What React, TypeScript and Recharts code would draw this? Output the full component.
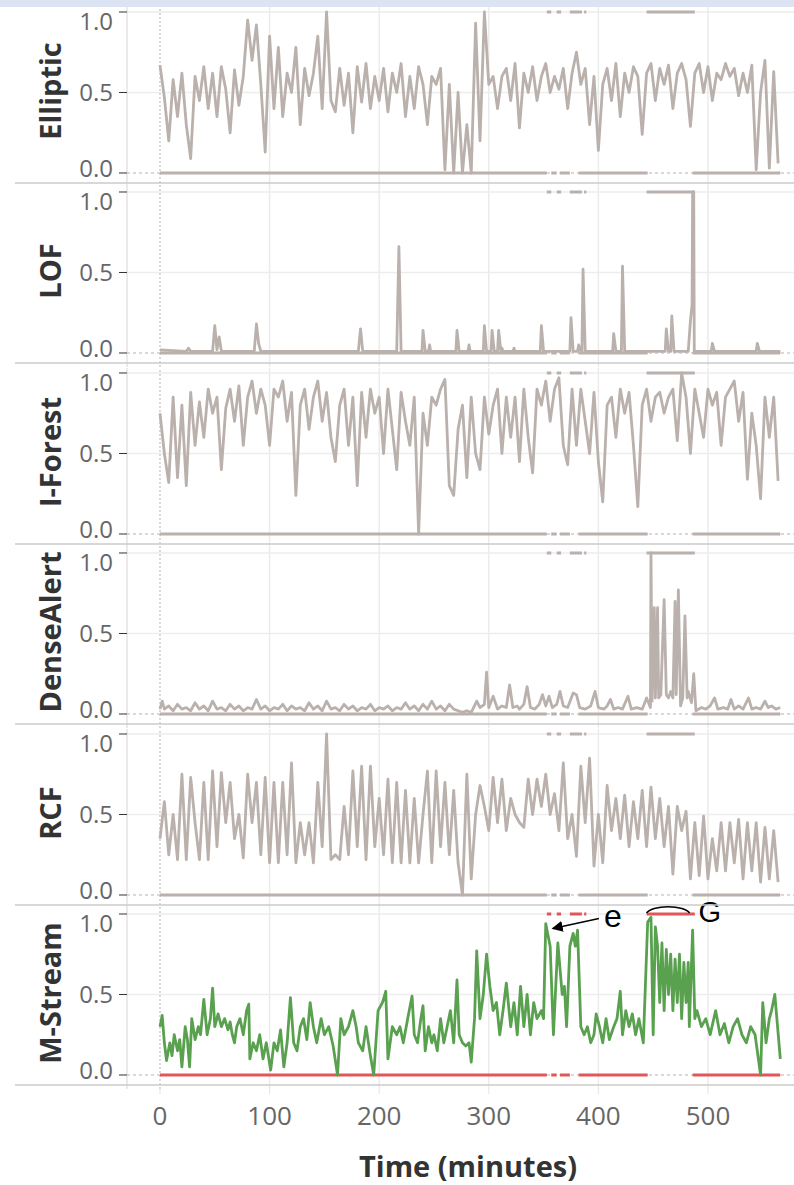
import React from "react";
import { LineChart, Line, XAxis, YAxis, ReferenceLine, ReferenceDot } from "recharts";

// minutes between samples of the grid series
const STEP = 4;

const xTicks = [0, 100, 200, 300, 400, 500];
const yTicks = [0, 0.5, 1];

// scores sampled every STEP minutes, from minute 0
const ellipticScores = [
    0.67, 0.47, 0.2, 0.58, 0.35, 0.62, 0.3, 0.09, 0.6, 0.45,
    0.66, 0.4, 0.62, 0.35, 0.66, 0.52, 0.25, 0.64, 0.42, 0.6,
    0.95, 0.7, 0.92, 0.55, 0.13, 0.85, 0.4, 0.78, 0.35, 0.62,
    0.5, 0.78, 0.3, 0.65, 0.48, 0.62, 0.85, 0.4, 1.0, 0.45,
    0.38, 0.65, 0.42, 0.62, 0.25, 0.66, 0.44, 0.68, 0.4, 0.6,
    0.45, 0.65, 0.38, 0.62, 0.5, 0.68, 0.35, 0.6, 0.4, 0.66,
    0.55, 0.3, 0.6, 0.55, 0.65, 0.02, 0.55, 0.0, 0.5, 0.0,
    0.3, 0.0, 0.93, 0.2, 1.0, 0.55, 0.6, 0.4, 0.6, 0.65,
    0.45, 0.68, 0.28, 0.62, 0.5, 0.66, 0.45, 0.6, 0.68, 0.5,
    0.6, 0.52, 0.65, 0.4, 0.62, 0.75, 0.55, 0.65, 0.3, 0.6,
    0.14, 0.55, 0.65, 0.45, 0.68, 0.35, 0.62, 0.5, 0.66, 0.6,
    0.24, 0.62, 0.68, 0.45, 0.65, 0.55, 0.67, 0.4, 0.62, 0.68,
    0.58, 0.29, 0.62, 0.68, 0.5, 0.66, 0.45, 0.62, 0.58, 0.68,
    0.6, 0.65, 0.48, 0.62, 0.5, 0.67, 0.02, 0.5, 0.7, 0.03,
    0.63, 0.06,
];

const iForestScores = [
    0.75, 0.5, 0.32, 0.85, 0.35, 0.8, 0.3, 0.88, 0.55, 0.82,
    0.6, 0.9, 0.75, 0.85, 0.4, 0.78, 0.9, 0.7, 0.92, 0.55,
    0.85, 0.95, 0.75, 0.9, 0.8, 0.55, 0.9, 0.85, 0.95, 0.7,
    0.88, 0.24, 0.8, 0.9, 0.65, 0.85, 0.95, 0.7, 0.88, 0.6,
    0.45, 0.8, 0.9, 0.55, 0.85, 0.3, 0.88, 0.6, 0.9, 0.75,
    0.85, 0.5, 0.9, 0.65, 0.4, 0.88, 0.7, 0.55, 0.85, 0.0,
    0.75, 0.55, 0.85, 0.8, 0.9, 0.96, 0.3, 0.24, 0.65, 0.8,
    0.35, 0.85, 0.5, 0.4, 0.85, 0.62, 0.8, 0.9, 0.5, 0.85,
    0.6, 0.85, 0.45, 0.9, 0.6, 0.38, 0.9, 0.8, 0.95, 0.7,
    0.9, 0.97, 0.55, 0.43, 0.9, 0.55, 0.9, 0.7, 0.5, 0.88,
    0.45, 0.2, 0.8, 0.85, 0.6, 0.9, 0.75, 0.88, 0.55, 0.17,
    0.8, 0.9, 0.7, 0.85, 0.88, 0.75, 0.85, 0.9, 0.58, 1.0,
    0.85, 0.5, 0.9, 0.75, 0.6, 0.9, 0.8, 0.88, 0.55, 0.85,
    0.9, 0.95, 0.7, 0.88, 0.34, 0.75, 0.55, 0.22, 0.85, 0.6,
    0.85, 0.33,
];

const rcfScores = [
    0.35, 0.58, 0.25, 0.5, 0.22, 0.75, 0.22, 0.73, 0.45, 0.22,
    0.7, 0.22, 0.77, 0.3, 0.76, 0.45, 0.7, 0.35, 0.5, 0.23,
    0.75, 0.45, 0.7, 0.25, 0.73, 0.2, 0.7, 0.2, 0.7, 0.25,
    0.82, 0.2, 0.45, 0.25, 0.45, 0.2, 0.7, 0.3, 1.0, 0.22,
    0.25, 0.22, 0.55, 0.25, 0.77, 0.3, 0.8, 0.22, 0.8, 0.3,
    0.6, 0.25, 0.72, 0.2, 0.7, 0.2, 0.65, 0.2, 0.6, 0.2,
    0.5, 0.77, 0.2, 0.77, 0.3, 0.7, 0.25, 0.65, 0.2, 0.0,
    0.75, 0.1, 0.5, 0.68, 0.55, 0.4, 0.73, 0.45, 0.72, 0.4,
    0.6, 0.5, 0.45, 0.42, 0.72, 0.5, 0.72, 0.55, 0.75, 0.5,
    0.63, 0.4, 0.82, 0.35, 0.5, 0.24, 0.8, 0.45, 0.85, 0.18,
    0.5, 0.2, 0.68, 0.4, 0.6, 0.35, 0.62, 0.3, 0.58, 0.35,
    0.65, 0.3, 0.67, 0.35, 0.6, 0.3, 0.55, 0.13, 0.55, 0.4,
    0.52, 0.1, 0.45, 0.12, 0.49, 0.1, 0.35, 0.15, 0.45, 0.15,
    0.45, 0.2, 0.47, 0.1, 0.45, 0.15, 0.45, 0.08, 0.42, 0.1,
    0.4, 0.08,
];

// [minute, score] pairs for the spiky series
const lofPoints: [number, number][] = [
    [0, 0.02], [24, 0.01], [26, 0.03], [28, 0.01], [48, 0.01], [50, 0.17], [52, 0.02], [54, 0.1], [56, 0.01],
    [86, 0.01], [88, 0.18], [90, 0.06], [92, 0.01], [181, 0.01], [183, 0.15], [185, 0.01], [216, 0.01],
    [218, 0.66], [220, 0.01], [239, 0.01], [240, 0.14], [242, 0.01], [245, 0.01], [246, 0.05], [247, 0.01],
    [270, 0.01], [271, 0.14], [273, 0.01], [281, 0.01], [282, 0.05], [283, 0.01], [295, 0.01], [296, 0.17],
    [298, 0.01], [302, 0.01], [303, 0.14], [305, 0.01], [308, 0.01], [309, 0.14], [311, 0.01], [312, 0.03],
    [313, 0.01], [322, 0.01], [323, 0.03], [324, 0.01], [347, 0.01], [348, 0.17], [350, 0.01], [374, 0.01],
    [375, 0.22], [377, 0.01], [381, 0.01], [382, 0.05], [384, 0.01], [385, 0.01], [386, 0.52], [388, 0.01],
    [413, 0.01], [414, 0.12], [416, 0.01], [421, 0.01], [422, 0.54], [424, 0.01], [461, 0.01], [462, 0.15],
    [464, 0.01], [466, 0.01], [467, 0.23], [469, 0.01], [482, 0.01], [484, 0.2], [485.5, 0.3], [486, 1.0],
    [487, 1.0], [487.5, 0.01], [503, 0.01], [504, 0.06], [506, 0.01], [544, 0.01], [545, 0.06], [547, 0.01],
    [566, 0.01],
];

const denseAlertPoints: [number, number][] = [
    [0, 0.03], [2, 0.08], [4, 0.03], [8, 0.05], [12, 0.02], [16, 0.06], [20, 0.03], [24, 0.04], [28, 0.02],
    [32, 0.07], [36, 0.03], [40, 0.05], [44, 0.02], [48, 0.08], [52, 0.03], [56, 0.04], [60, 0.02], [64, 0.06],
    [68, 0.03], [72, 0.05], [76, 0.02], [80, 0.04], [84, 0.03], [88, 0.09], [92, 0.03], [96, 0.05], [100, 0.02],
    [104, 0.04], [108, 0.03], [112, 0.06], [116, 0.02], [120, 0.05], [124, 0.03], [128, 0.04], [132, 0.02],
    [136, 0.07], [140, 0.03], [144, 0.05], [148, 0.02], [152, 0.08], [156, 0.03], [160, 0.04], [164, 0.02],
    [168, 0.06], [172, 0.03], [176, 0.05], [180, 0.02], [184, 0.04], [188, 0.03], [192, 0.06], [196, 0.02],
    [200, 0.04], [204, 0.03], [208, 0.05], [212, 0.02], [216, 0.04], [220, 0.03], [224, 0.07], [228, 0.03],
    [232, 0.05], [236, 0.02], [240, 0.06], [244, 0.03], [248, 0.08], [252, 0.03], [256, 0.05], [260, 0.02],
    [264, 0.06], [268, 0.03], [272, 0.02], [276, 0.01], [280, 0.02], [284, 0.01], [289, 0.08], [292, 0.04],
    [296, 0.06], [298, 0.26], [300, 0.04], [304, 0.11], [308, 0.03], [312, 0.05], [316, 0.04], [319, 0.18],
    [322, 0.04], [326, 0.05], [328, 0.03], [332, 0.06], [335, 0.17], [338, 0.04], [342, 0.03], [346, 0.06],
    [349, 0.12], [352, 0.05], [355, 0.11], [358, 0.04], [362, 0.06], [365, 0.14], [368, 0.05], [372, 0.04],
    [377, 0.13], [380, 0.12], [383, 0.04], [388, 0.03], [393, 0.05], [397, 0.14], [400, 0.04], [405, 0.03],
    [408, 0.05], [411, 0.09], [414, 0.03], [418, 0.04], [422, 0.03], [427, 0.11], [430, 0.03], [435, 0.04],
    [440, 0.03], [444, 0.1], [447.5, 0.04], [448, 1.0], [449, 0.08], [451, 0.66], [452, 0.1], [454, 0.66],
    [455, 0.1], [457, 0.12], [460, 0.71], [462, 0.12], [464, 0.1], [466, 0.14], [468, 0.1], [470, 0.7],
    [471, 0.12], [473, 0.77], [475, 0.05], [477, 0.1], [479, 0.61], [481, 0.1], [482, 0.14], [485, 0.07],
    [487, 0.25], [489, 0.02], [494, 0.04], [498, 0.03], [502, 0.05], [506, 0.1], [509, 0.03], [514, 0.04],
    [518, 0.03], [521, 0.09], [524, 0.03], [528, 0.05], [532, 0.03], [537, 0.1], [540, 0.03], [544, 0.04],
    [548, 0.03], [552, 0.08], [555, 0.04], [558, 0.05], [562, 0.03], [566, 0.04],
];

const mStreamPoints: [number, number][] = [
    [0, 0.3], [2, 0.37], [4, 0.2], [6, 0.09], [9, 0.2], [11, 0.12], [13, 0.25], [16, 0.15], [18, 0.22],
    [20, 0.05], [23, 0.3], [25, 0.22], [27, 0.05], [29, 0.35], [32, 0.22], [35, 0.3], [37, 0.25], [40, 0.47],
    [43, 0.25], [46, 0.35], [48, 0.54], [50, 0.3], [53, 0.38], [56, 0.3], [59, 0.35], [62, 0.28], [64, 0.33],
    [66, 0.25], [68, 0.2], [70, 0.3], [73, 0.35], [76, 0.25], [79, 0.4], [81, 0.44], [82, 0.1], [85, 0.2],
    [88, 0.15], [91, 0.25], [94, 0.1], [97, 0.2], [101, 0.03], [104, 0.2], [107, 0.15], [110, 0.28],
    [113, 0.05], [116, 0.2], [119, 0.48], [122, 0.2], [125, 0.15], [128, 0.3], [131, 0.35], [134, 0.22],
    [137, 0.45], [140, 0.3], [143, 0.2], [147, 0.35], [150, 0.25], [154, 0.3], [158, 0.18], [162, 0.0],
    [165, 0.35], [168, 0.25], [172, 0.3], [176, 0.4], [179, 0.3], [181, 0.2], [185, 0.15], [188, 0.3],
    [192, 0.12], [195, 0.0], [199, 0.4], [203, 0.45], [206, 0.52], [208, 0.1], [212, 0.3], [216, 0.25],
    [219, 0.3], [222, 0.2], [226, 0.35], [230, 0.49], [232, 0.25], [235, 0.2], [238, 0.35], [240, 0.43],
    [242, 0.15], [245, 0.3], [248, 0.2], [250, 0.25], [253, 0.15], [256, 0.35], [259, 0.2], [262, 0.3],
    [265, 0.4], [268, 0.2], [271, 0.59], [273, 0.25], [276, 0.2], [279, 0.18], [282, 0.2], [284, 0.08],
    [287, 0.35], [289, 0.77], [292, 0.35], [295, 0.5], [298, 0.75], [301, 0.55], [304, 0.4], [307, 0.45],
    [310, 0.25], [313, 0.4], [316, 0.57], [320, 0.3], [323, 0.45], [326, 0.25], [329, 0.55], [332, 0.3],
    [335, 0.5], [338, 0.25], [341, 0.45], [344, 0.35], [348, 0.4], [350, 0.35], [352, 0.94], [356, 0.8],
    [359, 0.25], [363, 0.82], [367, 0.5], [369, 0.55], [371, 0.3], [374, 0.8], [377, 0.88], [379, 0.8],
    [381, 0.9], [384, 0.3], [387, 0.25], [390, 0.3], [393, 0.2], [396, 0.25], [398, 0.38], [401, 0.3],
    [404, 0.2], [407, 0.35], [410, 0.22], [414, 0.3], [417, 0.35], [420, 0.52], [422, 0.25], [425, 0.4],
    [428, 0.3], [431, 0.38], [434, 0.25], [437, 0.35], [441, 0.2], [445, 0.95], [448, 0.98], [450, 0.25],
    [452, 0.92], [454, 0.8], [456, 0.45], [458, 0.82], [460, 0.4], [462, 0.78], [464, 0.5], [466, 0.75],
    [468, 0.4], [470, 0.72], [472, 0.45], [474, 0.75], [476, 0.35], [478, 0.7], [480, 0.45], [482, 0.7],
    [483, 0.3], [486, 0.9], [488, 0.35], [490, 0.4], [494, 0.3], [498, 0.35], [502, 0.25], [507, 0.4],
    [511, 0.25], [515, 0.32], [519, 0.2], [523, 0.3], [527, 0.35], [531, 0.25], [535, 0.2], [539, 0.3],
    [543, 0.25], [546, 0.1], [548, 0.0], [550, 0.45], [553, 0.2], [556, 0.35], [558, 0.4], [561, 0.5],
    [566, 0.1],
];

// ground truth: [start, end] minutes drawn at 0 (normal) and at 1 (anomaly)
const normalWindows: [number, number][] = [[0, 353], [357, 362], [365, 374], [382, 445], [486, 566]];
const anomalyWindows: [number, number][] = [[353, 357], [362, 366], [374, 385], [387, 389], [444, 488]];

const GRAY = "#bab0ac";
const GREEN = "#59a14f";
const RED = "#e15759";
const FONT = "'Open Sans', sans-serif";
const NOTE_FONT = "'Liberation Sans', Arial, sans-serif";

const X_DOMAIN: [number, number] = [-30.1, 578.5];
const Y_DOMAIN: [number, number] = [-0.087, 1.031];

const fromGrid = (vals: number[]) => vals.map((v, i) => ({ t: i * STEP, v }));
const fromPairs = (pts: [number, number][]) => pts.map(([t, v]) => ({ t, v }));
const windowLine = (wins: [number, number][], level: number) =>
    wins.flatMap(([a, b]) => [
        { t: a, v: level },
        { t: b, v: level },
        { t: b, v: null },
    ]);

const lowLine = windowLine(normalWindows, 0);
const highLine = windowLine(anomalyWindows, 1);

const panels = [
    { name: "Elliptic", data: fromGrid(ellipticScores) },
    { name: "LOF", data: fromPairs(lofPoints) },
    { name: "I-Forest", data: fromGrid(iForestScores) },
    { name: "DenseAlert", data: fromPairs(denseAlertPoints) },
    { name: "RCF", data: fromGrid(rcfScores) },
    { name: "M-Stream", data: fromPairs(mStreamPoints) },
];

const PANEL_PITCH = 180.4;
const PANEL_TOP = 7;
const HEADROOM = 20; // spare room above each plot so labels/notes never clip
const panelTop = (i: number) => Math.round(PANEL_TOP + PANEL_PITCH * i);

function YTick(props: any) {
    const { x, y, payload } = props;
    // outer labels are nudged inward, as in the original
    const shift = payload.value === 1 ? 9 : payload.value === 0 ? -5 : 0;
    return (
        <text x={x} y={y + shift} dy="0.36em" textAnchor="end" fill="#666" fontSize={24} fontFamily={FONT}>
            {Number(payload.value).toFixed(1)}
        </text>
    );
}

function ArrowNote(props: any) {
    const { cx, cy } = props;
    return (
        <g>
            <defs>
                <marker id="arrowHead" markerWidth="8" markerHeight="8" refX="7" refY="4" orient="auto">
                    <path d="M0,0 L8,4 L0,8 z" fill="#000" />
                </marker>
            </defs>
            <line x1={cx + 48} y1={cy - 10} x2={cx + 2} y2={cy} stroke="#000" strokeWidth={1.4} markerEnd="url(#arrowHead)" />
            <text x={cx + 53} y={cy - 1} fontSize={32} fontFamily={NOTE_FONT} fill="#000">
                e
            </text>
        </g>
    );
}

function ArcNote(props: any) {
    const { cx, cy } = props;
    return (
        <g>
            <path d={`M${cx},${cy - 1} A22 8 0 0 1 ${cx + 43},${cy - 1}`} fill="none" stroke="#000" strokeWidth={1.5} />
            <text x={cx + 52} y={cy + 8} fontSize={29} fontFamily={NOTE_FONT} fill="#000">
                G
            </text>
        </g>
    );
}

function Panel({ data, index }: { data: { t: number; v: number }[]; index: number }) {
    const isLast = index === panels.length - 1;
    const seriesColor = isLast ? GREEN : GRAY;
    const truthColor = isLast ? RED : GRAY;
    return (
        <div style={{ position: "absolute", top: panelTop(index) - HEADROOM, left: 0 }}>
            <LineChart
                width={794}
                height={(isLast ? 276 : 180) + HEADROOM}
                margin={{ top: HEADROOM, right: 0, bottom: 0, left: 0 }}
            >
                <XAxis
                    type="number"
                    dataKey="t"
                    domain={X_DOMAIN}
                    ticks={xTicks}
                    interval={0}
                    allowDataOverflow
                    hide={!isLast}
                    height={96}
                    axisLine={false}
                    tickLine={{ stroke: "#e4e4e4" }}
                    tickSize={5}
                    tickMargin={13}
                    tick={{ fill: "#666", fontSize: 26, fontFamily: FONT }}
                />
                <YAxis
                    type="number"
                    dataKey="v"
                    domain={Y_DOMAIN}
                    ticks={yTicks}
                    interval={0}
                    allowDataOverflow
                    width={127}
                    axisLine={{ stroke: "#d6d6d6" }}
                    tickLine={{ stroke: "#333" }}
                    tickSize={8}
                    tickMargin={6}
                    tick={<YTick />}
                />
                {xTicks
                    .filter((t) => t > 0)
                    .map((t) => (
                        <ReferenceLine key={t} x={t} stroke="#ebebeb" strokeWidth={1.5} />
                    ))}
                <ReferenceLine x={0} stroke="#b4b4b4" strokeDasharray="2 2" />
                <ReferenceLine y={1} stroke="#ededed" strokeWidth={1.5} />
                <ReferenceLine y={0.5} stroke="#ededed" strokeWidth={1.5} />
                <ReferenceLine y={0} stroke="#b4b4b4" strokeDasharray="3 3" />
                <Line data={lowLine} dataKey="v" stroke={truthColor} strokeWidth={3} dot={false} isAnimationActive={false} />
                <Line data={highLine} dataKey="v" stroke={truthColor} strokeWidth={3} dot={false} isAnimationActive={false} />
                <Line
                    data={data}
                    dataKey="v"
                    stroke={seriesColor}
                    strokeWidth={2.8}
                    dot={false}
                    strokeLinejoin="round"
                    isAnimationActive={false}
                />
                {isLast && <ReferenceDot x={356.7} y={0.91} r={0} shape={(p: any) => <ArrowNote {...p} />} />}
                {isLast && <ReferenceDot x={444} y={1} r={0} shape={(p: any) => <ArcNote {...p} />} />}
            </LineChart>
        </div>
    );
}

export default function App() {
    return (
        <div style={{ position: "absolute", top: 0, left: 0, width: 794, height: 1185, background: "#fff" }}>
            {panels.map((p, i) => (
                <Panel key={p.name} data={p.data} index={i} />
            ))}
            <svg width={794} height={1185} style={{ position: "absolute", top: 0, left: 0, pointerEvents: "none" }}>
                <rect x={0} y={0} width={794} height={7} fill="#dce3f3" />
                {panels.map((p, i) => (
                    <g key={p.name}>
                        <line x1={15} x2={794} y1={panelTop(i) + 176} y2={panelTop(i) + 176} stroke="#cbcbcb" strokeWidth={1.5} />
                        <text
                            x={61}
                            y={panelTop(i) + 84}
                            transform={`rotate(-90 61 ${panelTop(i) + 84})`}
                            textAnchor="middle"
                            fontSize={29}
                            fontWeight={700}
                            fontFamily={FONT}
                            fill="#333"
                        >
                            {p.name}
                        </text>
                    </g>
                ))}
                <text x={468} y={1177} textAnchor="middle" fontSize={29} fontWeight={700} fontFamily={FONT} fill="#333">
                    Time (minutes)
                </text>
            </svg>
        </div>
    );
}
